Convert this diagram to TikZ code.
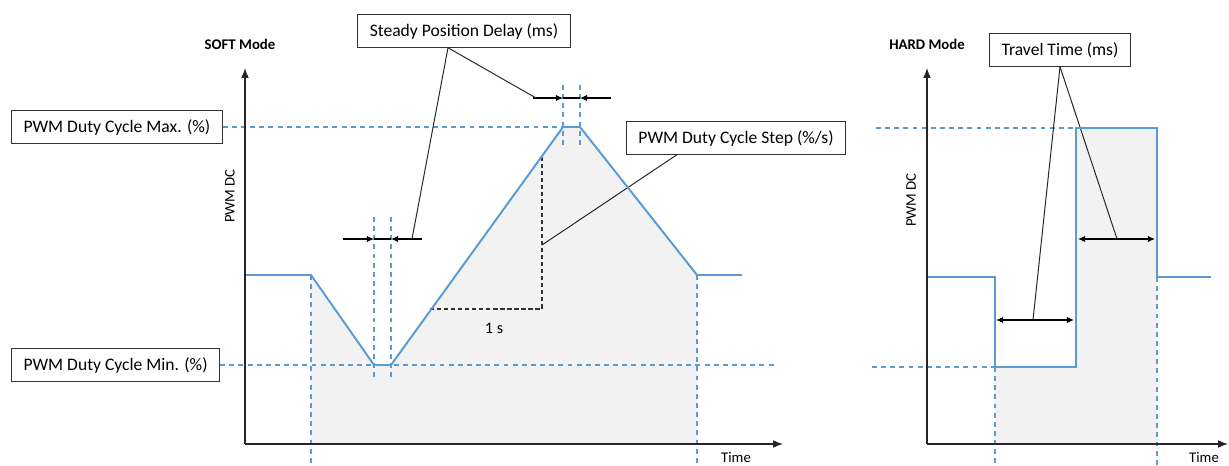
\documentclass[tikz,border=0pt]{standalone}
\usepackage{fontspec}
\setmainfont{Carlito}
\usetikzlibrary{arrows.meta, positioning, calc}

\definecolor{pwmblue}{RGB}{91,155,213}
\definecolor{areagray}{RGB}{242,242,242}

\begin{document}
\begin{tikzpicture}[
    x=0.025cm, y=-0.025cm,
    infobox/.style={rectangle, draw=black!80, line width=0.8pt, fill=white,
                    minimum height=23pt, inner xsep=8.5pt,
                    font=\fontsize{12.5}{14}\selectfont},
    axis/.style={-{Latex[length=7pt, width=5.5pt]}, line width=0.9pt, draw=black!85},
    curve/.style={draw=pwmblue, line width=1.4pt},
    guide/.style={draw=pwmblue, line width=0.9pt, dash pattern=on 3.5pt off 3pt},
    ruler/.style={draw=black!80, line width=0.9pt, dash pattern=on 3pt off 2pt},
    leader/.style={draw=black!85, line width=0.7pt},
    dim/.style={-{Latex[length=5pt, width=4.5pt]}, draw=black, line width=0.8pt},
    twodim/.style={{Latex[length=5pt, width=4.5pt]}-{Latex[length=5pt, width=4.5pt]},
                   draw=black, line width=0.8pt},
    modelabel/.style={font=\fontsize{10.5}{12}\selectfont\bfseries},
    axlabel/.style={font=\fontsize{10.5}{12}\selectfont},
]
\useasboundingbox (0,0) rectangle (1229,466);
\coordinate (bot) at (0,466);

% ---------------- SOFT mode ----------------
% Parameter boxes
\node[infobox, anchor=west] (maxbox) at (11,127) {PWM Duty Cycle Max. (\%)};
\node[infobox, anchor=west] (minbox) at (11,365) {PWM Duty Cycle Min. (\%)};
\node[infobox] (spd) at (464,31) {Steady Position Delay (ms)};
\node[infobox] (step) at (736,138) {PWM Duty Cycle Step (\%/s)};

% Axes and curve points
\coordinate (so) at (245,444);
\coordinate (sy) at (245,68);
\coordinate (sx) at (783,444);
\coordinate (s0) at (245,275);
\coordinate (s1) at (311,275);
\coordinate (s2) at (374,365);
\coordinate (s3) at (391,365);
\coordinate (s4) at (563,127);
\coordinate (s5) at (580,127);
\coordinate (s6) at (697,275);
\coordinate (s7) at (742,275);
\coordinate (minend) at (775,365);

% Area under the curve
\fill[areagray] (s1) -- (s2) -- (s3) -- (s4) -- (s5) -- (s6) -- (s6 |- so) -- (s1 |- so) -- cycle;

% Level and time guides
\draw[guide] (maxbox.east) -- (s4);
\draw[guide] (minbox.east) -- (minend);
\draw[guide] (s1) -- (s1 |- bot);
\draw[guide] (s6) -- (s6 |- bot);
\foreach \p in {s4,s5}
    \draw[guide] ($(\p)+(0,-42)$) -- ($(\p)+(0,20)$);
\foreach \p in {s2,s3}
    \draw[guide] ($(\p)+(0,-148)$) -- ($(\p)+(0,13)$);

% Steady position delay markers
\coordinate (d1) at (533,98);
\coordinate (d2) at (563,98);
\coordinate (d3) at (580,98);
\coordinate (d4) at (611,98);
\draw[line width=0.8pt] (d2) -- (d3);
\draw[dim] (d1) -- (d2);
\draw[dim] (d4) -- (d3);
\coordinate (e1) at (343,239);
\coordinate (e2) at (374,239);
\coordinate (e3) at (391,239);
\coordinate (e4) at (422,239);
\coordinate (e5) at (412,239);
\draw[line width=0.8pt] (e2) -- (e3);
\draw[dim] (e1) -- (e2);
\draw[dim] (e4) -- (e3);
\coordinate (spdfoot) at ($(spd.south)+(-16,0)$);
\draw[leader] (spdfoot) -- ($(d1)+(3,0)$);
\draw[leader] (spdfoot) -- (e5);

% Step slope triangle
\coordinate (r0) at (430,309);
\coordinate (r1) at (542,309);
\coordinate (r2) at (542,156);
\coordinate (r3) at (542,245);
\draw[ruler] (r0) -- (r1) -- (r2);
\node[axlabel, font=\fontsize{11.5}{13}\selectfont] (onesec) at (494,328) {1 s};
\draw[leader] ($(step.south west)+(51,0)$) -- (r3);

% Curve and axes
\draw[curve] (s0) -- (s1) -- (s2) -- (s3) -- (s4) -- (s5) -- (s6) -- (s7);
\draw[axis] (so) -- (sy);
\draw[axis] (so) -- (sx);
\node[modelabel] (softlbl) at (240,44) {SOFT Mode};
\node[axlabel, rotate=90] (softy) at (230,196) {PWM DC};
\node[axlabel] (softt) at (736,457) {Time};

% ---------------- HARD mode ----------------
\node[infobox] (travel) at (1060,50) {Travel Time (ms)};

\coordinate (ho) at (927,444);
\coordinate (hy) at (927,68);
\coordinate (hx) at (1228,444);
\coordinate (h0) at (927,277);
\coordinate (h1) at (995,277);
\coordinate (h2) at (995,367);
\coordinate (h3) at (1076,367);
\coordinate (h4) at (1076,128);
\coordinate (h5) at (1157,128);
\coordinate (h6) at (1157,277);
\coordinate (h7) at (1211,277);
\coordinate (hmaxstart) at (876,128);
\coordinate (hminstart) at (872,367);

\fill[areagray] (h2) -- (h3) -- (h4) -- (h5) -- (h6) -- (h6 |- ho) -- (h2 |- ho) -- cycle;

\draw[guide] (hmaxstart) -- (h4);
\draw[guide] (hminstart) -- (h2);
\draw[guide] (h2) -- (h2 |- bot);
\draw[guide] (h6) -- (h6 |- bot);

% Travel time markers
\coordinate (t1) at (996,320);
\coordinate (t2) at (1074,320);
\coordinate (t3) at (1078,239);
\coordinate (t4) at (1155,239);
\coordinate (t5) at (1033,320);
\coordinate (t6) at (1117,239);
\draw[twodim] (t1) -- (t2);
\draw[twodim] (t3) -- (t4);
\draw[leader] (travel.south) -- (t5);
\draw[leader] (travel.south) -- (t6);

\draw[curve] (h0) -- (h1) -- (h2) -- (h3) -- (h4) -- (h5) -- (h6) -- (h7);
\draw[axis] (ho) -- (hy);
\draw[axis] (ho) -- (hx);
\node[modelabel] (hardlbl) at (927,44) {HARD Mode};
\node[axlabel, rotate=90] (hardy) at (911,200) {PWM DC};
\node[axlabel] (hardt) at (1204,457) {Time};
\end{tikzpicture}
\end{document}
